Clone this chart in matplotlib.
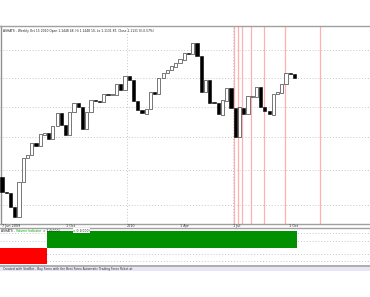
import matplotlib
matplotlib.use("Agg")
import matplotlib.pyplot as plt
import matplotlib.transforms as mtransforms
import numpy as np

# ---- data (levels) ----
opens = [73, 58, 57, 43, 33, 68, 92, 95, 107, 104, 115, 117, 111, 124, 137, 125, 115, 138, 147, 143,
         121, 138, 150, 149, 148, 156, 155, 155, 166, 160, 174, 170, 149, 140, 136, 141, 158, 156, 172, 177,
         180, 183, 187, 190, 197, 196, 207, 194, 158, 170, 148, 147, 135, 149, 162, 142, 113, 142, 136, 153,
         153, 163, 143, 139, 135, 156, 157, 166, 177, 176]
closes = [58, 57, 43, 33, 68, 92, 95, 107, 104, 116, 117, 111, 124, 137, 125, 115, 138, 147, 143, 121,
          138, 150, 149, 148, 156, 155, 155.5, 166, 160, 174, 170, 149, 140, 137, 141, 158, 156, 172, 177, 180,
          184, 187, 191, 197, 196, 207, 194, 158, 170, 147, 147, 136, 150, 162, 142, 113, 143, 136, 154, 153.5,
          163, 143, 139, 136, 156, 158, 166, 177, 176, 172]
grid_levels = [200, 172, 143, 113, 80, 45]
date_ticks = [0, 15, 29.5, 42, 54.5, 67.7]
date_labels = ["7 Jun 2009", "1 Oct", "2010", "1 Apr", "1 Jul", "1 Oct"]
date_grid = [29.5, 54.5]
signal_lines = [54.8, 55.6, 56.7, 58.7, 61.7, 66.8, 75.0]
volume_signal = [-1] * 11 + [1] * 59
vol_grid = [0.88, 0.40, -0.38, -0.80]

header = "ASHATS - Weekly Oct 15 2010 Open 1.1448 48, Hi 1.1448 10, Lo 1.1131 87, Close 1.1131 0(-0.57%)"
ind_parts = [("ASHATS -", "#202020"), ("Volume Indicator", "#00a000"), ("= 1.0(000)", "#202020")]
ind_value = "= 0.1(000)"
footer = "Created with StatBot - Buy Forex with the Best Forex Automatic Trading Forex Robot at"

W, H = 370, 297
fig = plt.figure(figsize=(W / 100, H / 100), dpi=100)
fig.patch.set_facecolor("white")

def fy(ypix):
    return 1 - ypix / H

# price panel: y pixels 26 .. 223.5
ax = fig.add_axes([0, fy(223.5), 1, fy(26) - fy(223.5)])
xlim = (-0.47, (W - 2) / 4.24)
ax.set_xlim(*xlim)
ax.set_ylim(26.5, 224)
ax.set_xticks([]); ax.set_yticks([])
ax.spines["right"].set_visible(False)
ax.spines["top"].set_color("#a0a0a0"); ax.spines["top"].set_linewidth(1.0)
ax.spines["bottom"].set_color("#a0a0a0"); ax.spines["bottom"].set_linewidth(1.0)
ax.spines["left"].set_color("#909090"); ax.spines["left"].set_linewidth(1.0)
ax.spines["left"].set_position(("data", -0.25))

for g in grid_levels:
    ax.axhline(g, color="#c8c8c8", lw=0.7, ls=(0, (1, 2)), zorder=1)
for g in date_grid:
    ax.axvline(g, color="#c8c8c8", lw=0.7, ls=(0, (1, 2)), zorder=1)
for s in signal_lines:
    ax.axvline(s, color="#ffb0b0", lw=0.9, zorder=2)

for i, (o, c) in enumerate(zip(opens, closes)):
    h = c - o
    if abs(h) < 1:
        h = 1 if h >= 0 else -1
    if c >= o:
        ax.bar(i, h, bottom=o, width=0.76, facecolor="white", edgecolor="#101010", lw=0.4, zorder=3)
    else:
        ax.bar(i, h, bottom=o, width=0.76, facecolor="black", edgecolor="black", lw=0.4, zorder=3)

ax.text(0.008, 0.985, header, transform=ax.transAxes, fontsize=2.2, va="top", ha="left", color="#202020")

trans = mtransforms.blended_transform_factory(ax.transData, ax.transAxes)
for t, lab in zip(date_ticks, date_labels):
    ax.text(t, -0.003, lab, transform=trans, fontsize=2.4, va="top", ha="left", color="#303030",
            clip_on=False)

# indicator panel: y pixels 228 .. 266
ax2 = fig.add_axes([0, fy(266), 1, fy(228) - fy(266)])
ax2.set_xlim(*xlim)
ax2.set_ylim(-1.10, 1.18)
ax2.set_xticks([]); ax2.set_yticks([])
for s in ["left", "right"]:
    ax2.spines[s].set_visible(False)
ax2.spines["top"].set_color("#a0a0a0"); ax2.spines["top"].set_linewidth(1.0)
ax2.spines["bottom"].set_color("#a0a0a0"); ax2.spines["bottom"].set_linewidth(1.2)
for g in vol_grid:
    ax2.axhline(g, color="#c8c8c8", lw=0.7, ls=(0, (1, 2)), zorder=1)
vals = np.array(volume_signal, dtype=float)
edges = np.arange(len(vals) + 1) - 0.5
ax2.stairs(np.where(vals > 0, vals, 0), edges, fill=True, color="#009000", zorder=2)
ax2.stairs(np.where(vals < 0, vals, 0), edges, fill=True, color="#ff0000", zorder=2)

fig.canvas.draw()
renderer = fig.canvas.get_renderer()
xpix = 1.0
for txt, col in ind_parts:
    t = fig.text(xpix / W, fy(228.6), txt, fontsize=2.2, va="top", ha="left", color=col, zorder=6)
    ext = t.get_window_extent(renderer)
    xpix = ext.x1 + 1.5
fig.text(73 / W, fy(228.6), ind_value, fontsize=2.2, va="top", ha="left", color="#202020", zorder=6,
         bbox=dict(boxstyle="square,pad=0.15", facecolor="white", edgecolor="none"))

# status bar
ax3 = fig.add_axes([0, fy(271), 1, fy(266.5) - fy(271)])
ax3.set_facecolor("#e6e6f5")
ax3.set_xticks([]); ax3.set_yticks([])
for s in ax3.spines.values():
    s.set_visible(False)
ax3.text(0.008, 0.5, footer, transform=ax3.transAxes, fontsize=2.2, va="center", ha="left",
         color="#303030")

fig.savefig("out.png", dpi=100, facecolor="white")
